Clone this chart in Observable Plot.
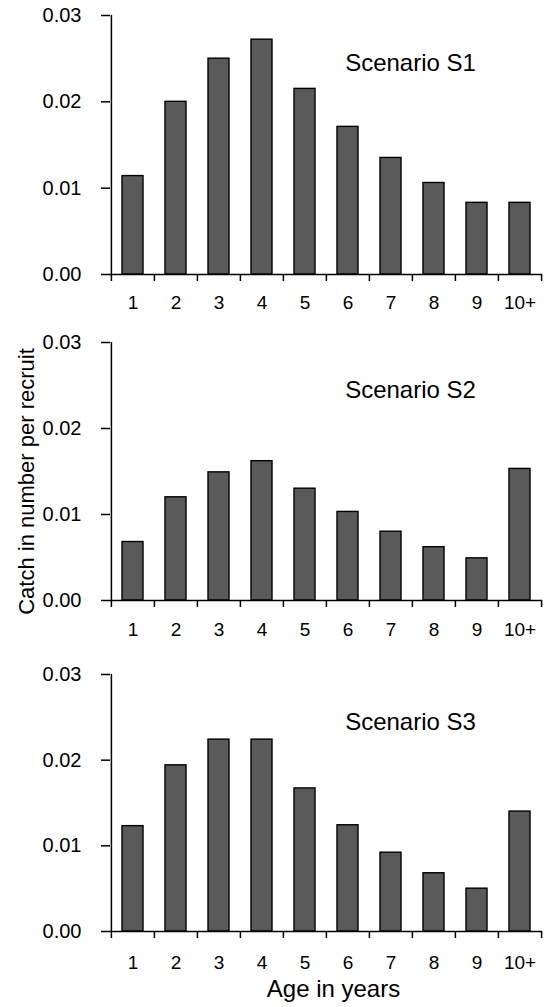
<!DOCTYPE html>
<html>
<head>
<meta charset="utf-8">
<script src="https://cdn.jsdelivr.net/npm/d3@7"></script>
<script src="https://cdn.jsdelivr.net/npm/@observablehq/plot@0.6"></script>
<style>
  html, body { margin: 0; padding: 0; background: #fff; }
  #chart svg { display: block; }
</style>
</head>
<body>
<div id="chart"></div>
<script>
// ---- data ----
const ages = ["1", "2", "3", "4", "5", "6", "7", "8", "9", "10+"];
const scenarioS1 = [0.0114, 0.0200, 0.0250, 0.0272, 0.0215, 0.0171, 0.0135, 0.0106, 0.0083, 0.0083];
const scenarioS2 = [0.0068, 0.0120, 0.0149, 0.0162, 0.0130, 0.0103, 0.0080, 0.0062, 0.0049, 0.0153];
const scenarioS3 = [0.0123, 0.0194, 0.0224, 0.0224, 0.0167, 0.0124, 0.0092, 0.0068, 0.0050, 0.0140];
const scenarioNames = ["Scenario S1", "Scenario S2", "Scenario S3"];
const yTicks = [0, 0.01, 0.02, 0.03];
const yTitle = "Catch in number per recruit";
const xTitle = "Age in years";

// ---- layout ----
const W = 550, ML = 110, MR = 8;
const step = (W - ML - MR) / ages.length;
const font = "'Liberation Sans', Arial, Helvetica, sans-serif";
const panels = [
  {values: scenarioS1, name: scenarioNames[0], h: 330, mt: 15, mb: 56, pad: 21},
  {values: scenarioS2, name: scenarioNames[1], h: 330, mt: 12, mb: 60, pad: 22, ytitle: true},
  {values: scenarioS3, name: scenarioNames[2], h: 347, mt: 14, mb: 76, pad: 24, xtitle: true}
];

const root = document.getElementById("chart");
panels.forEach(p => {
  const data = ages.map((a, i) => ({age: a, value: p.values[i]}));
  const marks = [
    Plot.barY(data, {x: "age", y: "value", fill: "#5a5a5a", stroke: "#000", strokeWidth: 1.4}),
    Plot.ruleY([0], {stroke: "#000", strokeWidth: 1.5}),
    Plot.ruleX([ages[0]], {dx: -step / 2, stroke: "#000", strokeWidth: 1.5}),
    Plot.ruleX(ages, {x: d => d, y1: 0, y2: 0, insetBottom: -7, dx: -step / 2, stroke: "#000", strokeWidth: 1.5}),
    Plot.ruleX([ages[ages.length - 1]], {y1: 0, y2: 0, insetBottom: -7, dx: step / 2, stroke: "#000", strokeWidth: 1.5}),
    Plot.axisY({ticks: yTicks, tickFormat: d3.format(".2f"), tickSize: 9, tickPadding: 20, fontSize: 20, strokeWidth: 1.5, label: null}),
    Plot.axisX({tickSize: 0, tickPadding: p.pad, fontSize: 19, label: null}),
    Plot.text([p.name], {frameAnchor: "top", dx: 84, dy: 48, lineAnchor: "middle", fontSize: 24, fill: "#000"})
  ];
  if (p.ytitle) {
    marks.push(Plot.text([yTitle], {frameAnchor: "left", textAnchor: "middle", dx: -84, dy: 10, rotate: -90, lineAnchor: "middle", fontSize: 22, fill: "#000"}));
  }
  if (p.xtitle) {
    marks.push(Plot.text([xTitle], {frameAnchor: "bottom", textAnchor: "middle", dx: 7, dy: 58, lineAnchor: "middle", fontSize: 24, fill: "#000"}));
  }
  const svg = Plot.plot({
    width: W,
    height: p.h,
    marginLeft: ML,
    marginRight: MR,
    marginTop: p.mt,
    marginBottom: p.mb,
    style: {fontFamily: font, color: "#000", background: "#fff", overflow: "visible"},
    x: {type: "band", domain: ages, paddingInner: 0.51, paddingOuter: 0.255, axis: null},
    y: {domain: [0, 0.03], axis: null},
    marks
  });
  root.appendChild(svg);
});
</script>
</body>
</html>
